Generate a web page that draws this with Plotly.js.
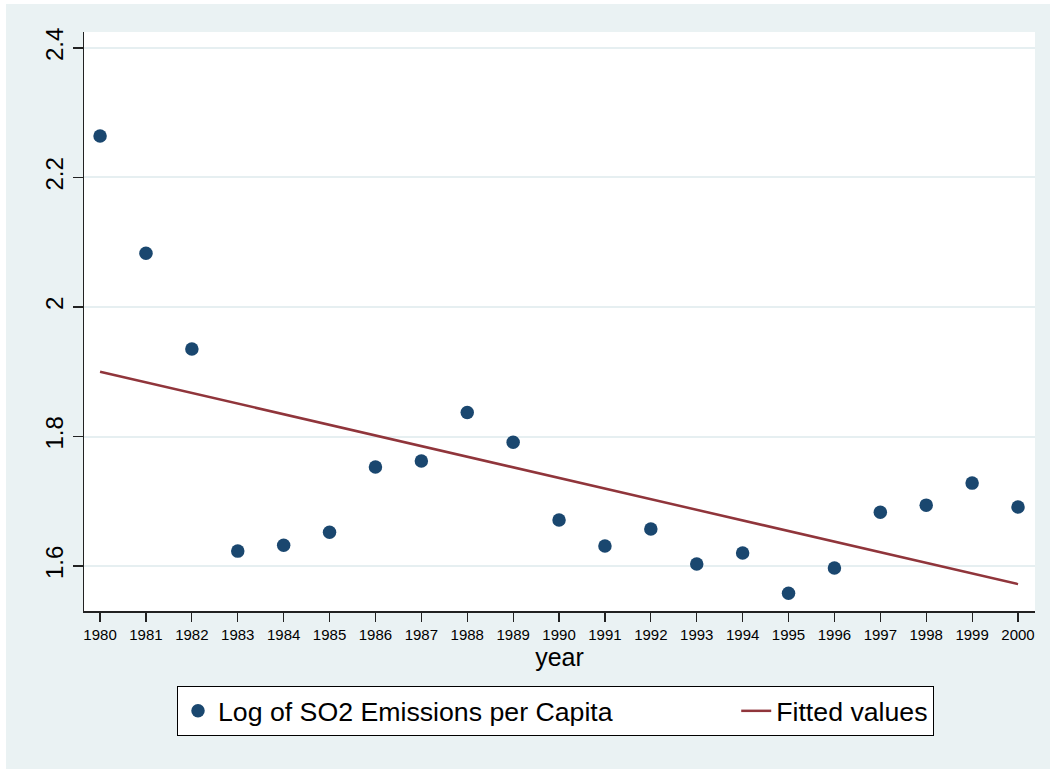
<!DOCTYPE html>
<html>
<head>
<meta charset="utf-8">
<script src="https://cdn.plot.ly/plotly-3.0.1.min.js"></script>
<style>
  html, body { margin: 0; padding: 0; background: #ffffff; }
  #chart { position: absolute; left: 6px; top: 4px; width: 1044px; height: 765px; }
</style>
</head>
<body>
<div id="chart"></div>
<script>
// Data
const years = [1980, 1981, 1982, 1983, 1984, 1985, 1986, 1987, 1988, 1989, 1990,
               1991, 1992, 1993, 1994, 1995, 1996, 1997, 1998, 1999, 2000];
const logSO2 = [2.264, 2.083, 1.935, 1.623, 1.632, 1.652, 1.753, 1.762, 1.837, 1.791, 1.671,
                1.631, 1.657, 1.603, 1.620, 1.558, 1.597, 1.683, 1.694, 1.728, 1.691];
const fittedYears = [1980, 2000];
const fittedValues = [1.900, 1.572];
const yTickVals = [1.6, 1.8, 2.0, 2.2, 2.4];
const yTickText = ['1.6', '1.8', '2', '2.2', '2.4'];

const seriesName1 = 'Log of SO2 Emissions per Capita' + '\u00A0'.repeat(16);
const seriesName2 = 'Fitted values';

const FONT = 'Liberation Sans, Arial, Helvetica, sans-serif';

const traces = [
  {
    x: years, y: logSO2, type: 'scatter', mode: 'markers', name: seriesName1,
    marker: { color: '#1a476f', size: 13.5, line: { width: 0 } },
    cliponaxis: false
  },
  {
    x: fittedYears, y: fittedValues, type: 'scatter', mode: 'lines', name: seriesName2,
    line: { color: '#90353b', width: 2.5 }
  }
];

const layout = {
  width: 1044, height: 765,
  paper_bgcolor: '#eaf2f3',
  plot_bgcolor: '#ffffff',
  margin: { l: 78, r: 15, t: 28, b: 158 },
  font: { family: FONT, color: '#000000' },
  showlegend: true,
  legend: {
    orientation: 'h',
    x: 0.0978, xanchor: 'left',
    y: -0.1295, yanchor: 'top',
    bgcolor: '#ffffff',
    bordercolor: '#000000',
    borderwidth: 1,
    font: { family: FONT, size: 26.7, color: '#000000' },
    traceorder: 'normal'
  },
  xaxis: {
    range: [1979.65, 2000.37],
    tickmode: 'array',
    tickvals: years,
    ticktext: years.map(String),
    ticks: 'outside', ticklen: 9, tickwidth: 1.2, tickcolor: '#222222',
    tickfont: { family: FONT, size: 15, color: '#000000' },
    showline: true, linecolor: '#222222', linewidth: 1.5,
    showgrid: false, zeroline: false,
    title: { text: 'year', font: { family: FONT, size: 25, color: '#000000' }, standoff: 2 }
  },
  yaxis: {
    range: [1.5305, 2.4247],
    tickmode: 'array',
    tickvals: yTickVals,
    ticktext: yTickText,
    tickangle: -90,
    ticks: 'outside', ticklen: 10, tickwidth: 1.2, tickcolor: '#222222',
    tickfont: { family: FONT, size: 24, color: '#000000' },
    showline: true, linecolor: '#222222', linewidth: 1.5,
    showgrid: true, gridcolor: '#e6eff1', gridwidth: 2,
    zeroline: false
  }
};

Plotly.newPlot('chart', traces, layout, { displayModeBar: false, staticPlot: true });
</script>
</body>
</html>
